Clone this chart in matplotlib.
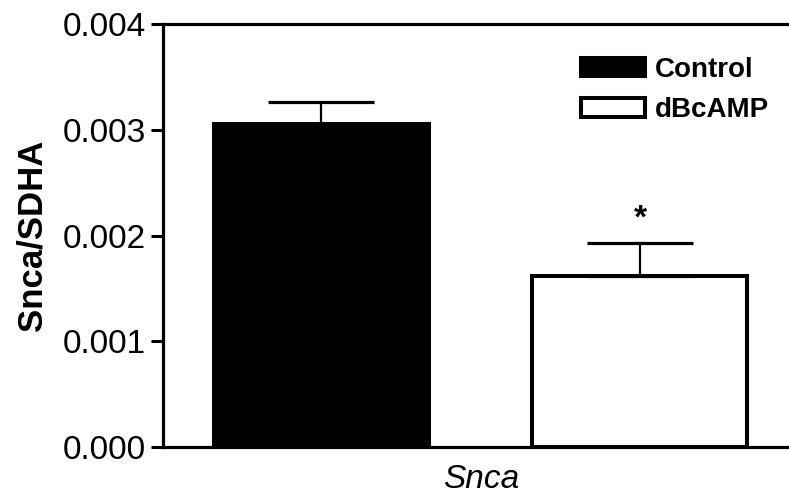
import matplotlib.pyplot as plt

plt.rcParams['font.family'] = ['Liberation Sans', 'DejaVu Sans']

# Snca expression normalised to SDHA
groups = ["Control", "dBcAMP"]
means = [0.00305, 0.00162]
sems = [0.00021, 0.00031]
category = "Snca"

fig = plt.figure(figsize=(7.89, 5.0), dpi=100)
ax = fig.add_axes([0.2066, 0.106, 0.7934, 0.846])

pos = [0, 1]
colors = ["black", "white"]
bars = ax.bar(pos, means, width=0.675, color=colors, edgecolor="black",
              linewidth=2.9, label=groups, zorder=2)

# upward-only error bars
for x, m, s in zip(pos, means, sems):
    ax.errorbar(x, m, yerr=[[0], [s]], fmt="none", ecolor="black",
                elinewidth=1.6, capsize=38, capthick=2.3, zorder=3)

# significance marker over dBcAMP
ax.text(pos[1], means[1] + sems[1] + 0.00023, "*", ha="center", va="center",
        fontsize=24, fontweight="bold")

ax.set_xlim(-0.4976, 1.468)
ax.set_ylim(0, 0.004)
ax.set_yticks([0, 0.001, 0.002, 0.003, 0.004])
ax.set_yticklabels(["0.000", "0.001", "0.002", "0.003", "0.004"])
ax.set_xticks([0.5])
ax.set_xticklabels([category], fontstyle="italic")
ax.tick_params(axis="y", labelsize=24, length=9, width=2.2, pad=3.5)
ax.tick_params(axis="x", labelsize=24, length=0, pad=12)

ax.set_ylabel("Snca/SDHA", fontsize=25, fontweight="bold", labelpad=10)

for side in ["left", "bottom", "top"]:
    ax.spines[side].set_linewidth(2.3)
ax.spines["right"].set_visible(False)

leg = ax.legend(bars, groups, loc="upper left", bbox_to_anchor=(0.6677, 0.923),
                frameon=False, prop={"weight": "bold", "size": 20},
                handlelength=2.3, handleheight=0.65, handletextpad=0.35,
                labelspacing=0.53, borderaxespad=0, borderpad=0)

fig.savefig("out.png", dpi=100)
